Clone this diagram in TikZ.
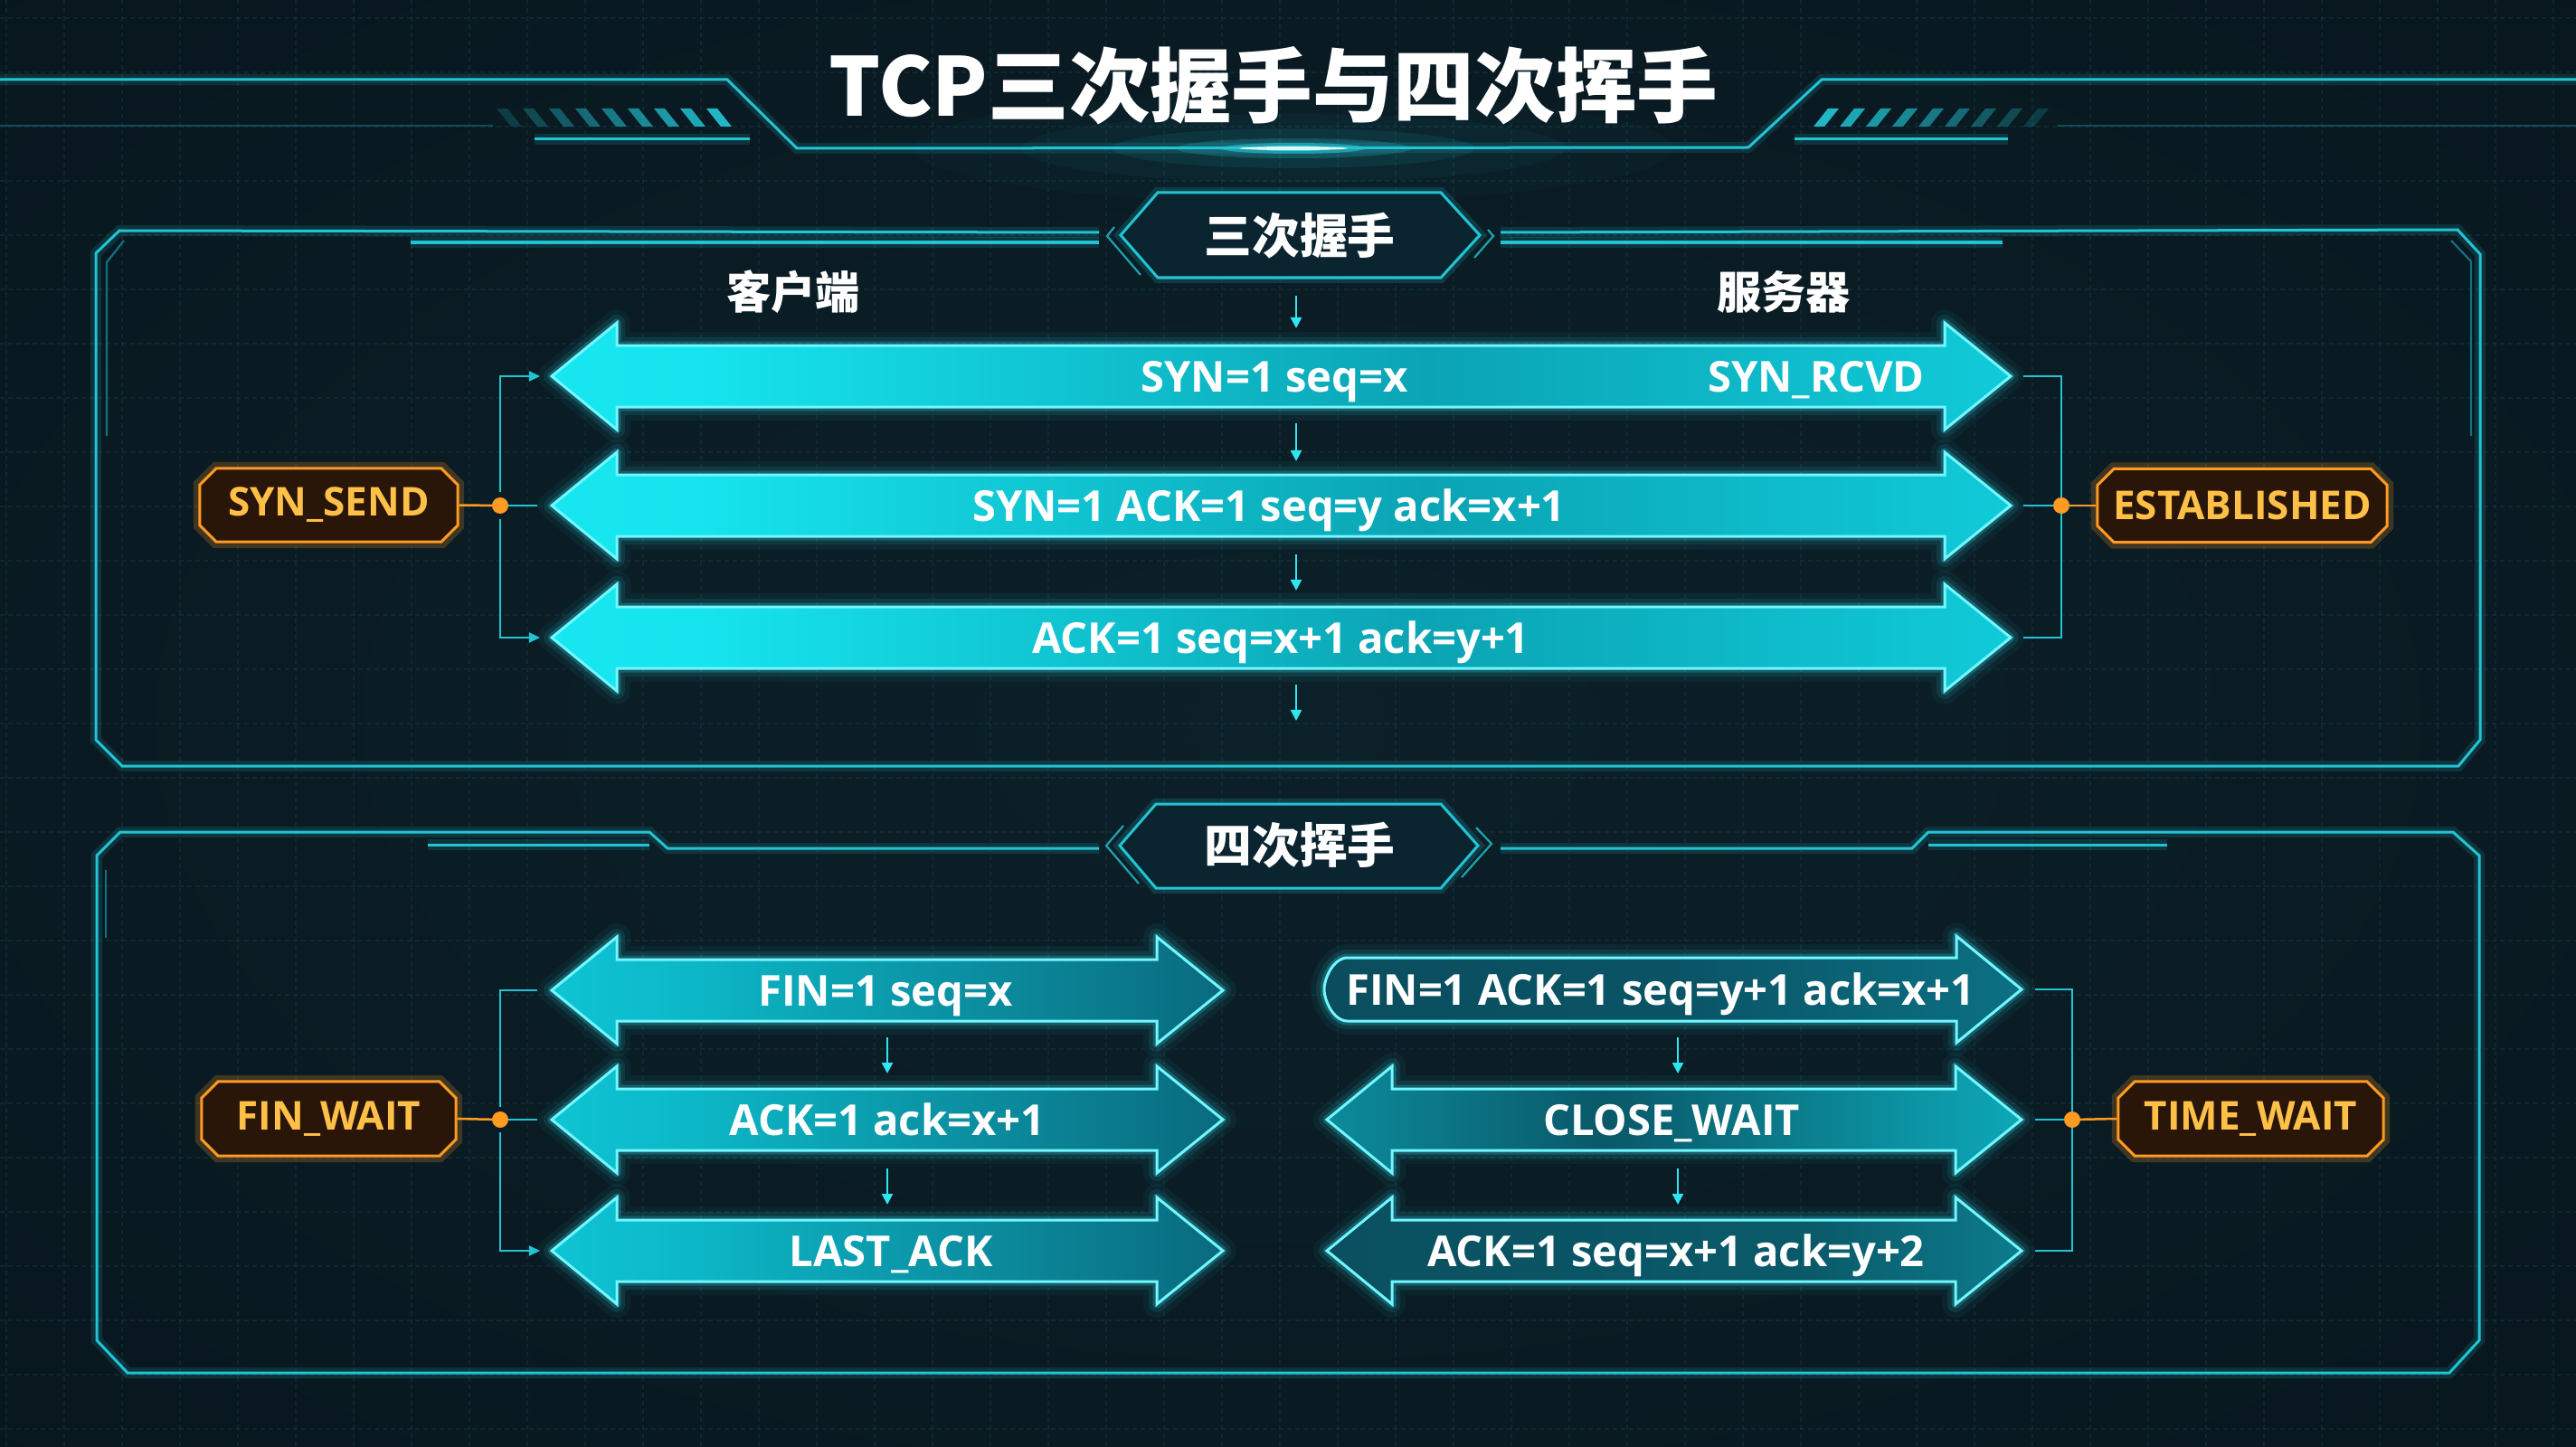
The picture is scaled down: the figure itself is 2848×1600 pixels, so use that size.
\documentclass[tikz,border=0pt]{standalone}
\usepackage{fontspec}
\usetikzlibrary{arrows.meta,shapes.misc,calc}
\newfontfamily\cjk{Noto Sans CJK SC}
\newfontfamily\osans{Open Sans}
\definecolor{bgin}{HTML}{0C2029}
\definecolor{bgmid}{HTML}{08161D}
\definecolor{bgout}{HTML}{03080C}
\definecolor{gridc}{HTML}{1A4250}
\definecolor{fr}{HTML}{22C4D4}
\definecolor{frd}{HTML}{127080}
\definecolor{edgec}{HTML}{72F6FF}
\definecolor{glowc}{HTML}{30E6F4}
\definecolor{dnc}{HTML}{2EE6F2}
\definecolor{org}{HTML}{FF9A22}
\definecolor{orgt}{HTML}{FFC048}
\definecolor{brownc}{HTML}{2A1609}
\definecolor{hexfill}{HTML}{0A2430}
\definecolor{cyA}{HTML}{1CF4FB}
\definecolor{cyA2}{HTML}{16E4EE}
\definecolor{cyB}{HTML}{0BA4B4}
\definecolor{cyC}{HTML}{12D4E2}
\definecolor{blA}{HTML}{15E2F0}
\definecolor{blB}{HTML}{0CB8C8}
\definecolor{blC}{HTML}{0A6A7E}
\definecolor{blD}{HTML}{0E94A6}
\definecolor{rA}{HTML}{0A4656}
\definecolor{rB}{HTML}{0A5466}
\definecolor{rC}{HTML}{0B7C8E}
\definecolor{rD}{HTML}{12C0D0}
\definecolor{sA}{HTML}{14DCEA}
\definecolor{sB}{HTML}{0C98A8}
\definecolor{sC}{HTML}{0A5868}
\definecolor{sD}{HTML}{0CA8B8}
\definecolor{sE}{HTML}{16E6F2}
\definecolor{tA}{HTML}{0C7888}
\definecolor{tB}{HTML}{0A4E5E}
\definecolor{tC}{HTML}{0A5A6A}
\definecolor{tD}{HTML}{10B4C4}
\pgfdeclareradialshading{bgshade}{\pgfpoint{0bp}{0bp}}{color(0bp)=(bgin); color(40bp)=(bgmid); color(72bp)=(bgout)}
\pgfdeclarehorizontalshading{shTop}{100bp}{color(0bp)=(cyA); color(30bp)=(cyA2); color(55bp)=(cyB); color(80bp)=(cyC); color(100bp)=(cyA)}
\pgfdeclarehorizontalshading{shBL}{100bp}{color(0bp)=(blA); color(35bp)=(blB); color(75bp)=(blC); color(100bp)=(blD)}
\pgfdeclarehorizontalshading{shR1}{100bp}{color(0bp)=(rA); color(50bp)=(rB); color(85bp)=(rC); color(100bp)=(rD)}
\pgfdeclarehorizontalshading{shR2}{100bp}{color(0bp)=(sA); color(20bp)=(sB); color(45bp)=(sC); color(75bp)=(sD); color(100bp)=(sE)}
\pgfdeclarehorizontalshading{shR3}{100bp}{color(0bp)=(tA); color(20bp)=(tB); color(60bp)=(tC); color(100bp)=(tD)}
\tikzset{
  gridline/.style={draw=gridc, line width=0.02cm, dash pattern=on 0.05cm off 0.04cm, opacity=0.35},
  frame/.style={draw=fr, line width=0.03cm, line join=miter, preaction={draw=fr, line width=0.12cm, opacity=0.15}},
  thinframe/.style={draw=frd, line width=0.022cm},
  hexlab/.style={fill=hexfill, draw=fr, line width=0.03cm, preaction={draw=fr, line width=0.12cm, opacity=0.18}},
  chev/.style={draw=fr, line width=0.022cm, opacity=0.8},
  atext/.style={font=\osans\bfseries\fontsize{13.4pt}{16pt}\selectfont, text=white, anchor=base, inner sep=0pt},
  cjklab/.style={font=\cjk\bfseries\fontsize{15pt}{18pt}\selectfont, text=white, inner sep=0pt},
  side/.style={font=\cjk\bfseries\fontsize{14pt}{17pt}\selectfont, text=white, inner sep=0pt},
  statebox/.style={chamfered rectangle, chamfered rectangle sep=0.09cm, draw=org, line width=0.03cm,
    fill=brownc, text=orgt, font=\osans\bfseries\fontsize{12.5pt}{15pt}\selectfont,
    minimum height=0.81cm, inner sep=0pt, preaction={draw=org, line width=0.14cm, opacity=0.22}},
  conn/.style={draw=fr, line width=0.022cm},
  connarrow/.style={conn, -{Triangle[length=0.12cm,width=0.11cm]}},
  orgline/.style={draw=org, line width=0.025cm},
  dn/.style={draw=dnc, line width=0.024cm, -{Triangle[length=0.12cm,width=0.12cm]}},
  dot/.style={fill=org},
}
\newcommand{\glowpath}[2]{%
  \draw[glowc, line width=0.30cm, opacity=0.05, line join=round] #2;
  \draw[glowc, line width=0.18cm, opacity=0.10, line join=round] #2;
  \draw[glowc, line width=0.09cm, opacity=0.22, line join=round] #2;
  \shade[shading=#1] #2;
  \draw[edgec, line width=0.03cm, line join=miter] #2;
}
\newcommand{\dblarrow}[4]{%
  \glowpath{#4}{({#1},{#3}) -- ({#1+72},{#3-59}) -- ({#1+72},{#3-34}) -- ({#2-73},{#3-34}) -- ({#2-73},{#3-59}) -- ({#2},{#3}) -- ({#2-73},{#3+59}) -- ({#2-73},{#3+34}) -- ({#1+72},{#3+34}) -- ({#1+72},{#3+59}) -- cycle}%
}
\begin{document}
\begin{tikzpicture}[x=0.01cm,y=-0.01cm]
\useasboundingbox (0,0) rectangle (2848,1600);
\shade[shading=bgshade] (0,0) rectangle (2848,1600);
% grid
\foreach \gx in {7,71,...,2848} \draw[gridline] (\gx,0) -- (\gx,1600);
\foreach \gy in {20,80,...,1600} \draw[gridline] (0,\gy) -- (2848,\gy);
% title glow
\foreach \rx/\ry/\op in {420/60/0.025, 300/38/0.04, 200/22/0.08, 130/11/0.18, 80/6/0.45, 45/3/0.85}
  \fill[glowc, opacity=\op] (1430,164) ellipse [x radius=\rx, y radius=\ry];
% header lines
\draw[frame] (0,88) -- (804,88) -- (881,164) -- (1933,163) -- (2014,88) -- (2848,88);
\fill[white, opacity=0.85] (1430,164) ellipse [x radius=60, y radius=2];
\draw[thinframe, opacity=0.6] (0,139) -- (545,139);
\draw[thinframe, opacity=0.6] (2275,139) -- (2848,139);
\draw[frame] (591,154) -- (829,154);
\draw[frame] (1984,154) -- (2220,154);
\foreach \i in {0,...,8} {
  \pgfmathsetmacro{\xa}{549+29*\i}
  \pgfmathsetmacro{\oa}{0.2+0.09*\i}
  \fill[fr, opacity=\oa] (\xa,120) -- ({\xa+12},120) -- ({\xa+28},140) -- ({\xa+16},140) -- cycle;
  \pgfmathsetmacro{\xb}{2005+29*\i}
  \pgfmathsetmacro{\ob}{0.92-0.09*\i}
  \fill[fr, opacity=\ob] ({\xb+16},120) -- ({\xb+28},120) -- ({\xb+12},140) -- (\xb,140) -- cycle;
}
\node[font=\cjk\bfseries\fontsize{25.5pt}{30pt}\selectfont, text=white, inner sep=0pt] (title) at (1408,95) {TCP三次握手与四次挥手};

% ===== top panel frame
\draw[frame] (1215,257) -- (132,255) -- (106,280) -- (106,818) -- (135,847) -- (2718,847) -- (2742,818) -- (2742,281) -- (2717,254) -- (1659,257);
\draw[frame] (454,268) -- (1215,268);
\draw[frame] (1659,268) -- (2214,268);
\draw[thinframe] (137,266) -- (118,290) -- (118,482);
\draw[thinframe] (2710,266) -- (2732,289) -- (2732,482);
\draw[hexlab] (1280,213) -- (1593,213) -- (1636,260) -- (1593,307) -- (1280,307) -- (1239,260) -- cycle;
\draw[chev] (1232,251) -- (1224,261) -- (1261,304);
\draw[chev] (1645,254) -- (1651,261) -- (1630,285);
\node[cjklab] (lab1) at (1437,261) {三次握手};

% ===== bottom panel frame
\draw[frame] (1215,938) -- (738,938) -- (718,920) -- (133,920) -- (107,946) -- (107,1482) -- (141,1518) -- (2708,1518) -- (2741,1482) -- (2741,946) -- (2712,920) -- (2132,920) -- (2114,938) -- (1659,938);
\draw[frame] (473,934) -- (718,934);
\draw[frame] (2132,934) -- (2396,934);
\draw[thinframe] (117,962) -- (117,1037);
\draw[hexlab] (1278,889) -- (1593,889) -- (1634,935) -- (1593,982) -- (1278,982) -- (1238,935) -- cycle;
\draw[chev] (1242,913) -- (1223,935) -- (1259,977);
\draw[chev] (1632,915) -- (1649,933) -- (1616,970);
\node[cjklab] (lab2) at (1437,935) {四次挥手};

% ===== top arrows
\node[side] (client) at (877,323) {客户端};
\node[side] (server) at (1972,323) {服务器};
\dblarrow{610}{2223}{416}{shTop}
\dblarrow{610}{2223}{559}{shTop}
\dblarrow{610}{2223}{705}{shTop}
\coordinate (a1L) at (610,416); \coordinate (a2L) at (610,559); \coordinate (a3L) at (610,705);
\coordinate (a1R) at (2223,416); \coordinate (a2R) at (2223,559); \coordinate (a3R) at (2223,705);
\node[atext] (m1) at (1409,433) {SYN=1 seq=x};
\node[atext] (m1r) at (2008,433) {SYN\_RCVD};
\node[atext] (m2) at (1403,576) {SYN=1 ACK=1 seq=y ack=x+1};
\node[atext] (m3) at (1416,722) {ACK=1 seq=x+1 ack=y+1};
\coordinate (d0a) at (1433,327); \coordinate (d0b) at (1433,363);
\coordinate (d1a) at (1433,468); \coordinate (d1b) at (1433,510);
\coordinate (d2a) at (1433,613); \coordinate (d2b) at (1433,653);
\coordinate (d3a) at (1433,757); \coordinate (d3b) at (1433,797);
\draw[dn] (d0a) -- (d0b);
\draw[dn] (d1a) -- (d1b);
\draw[dn] (d2a) -- (d2b);
\draw[dn] (d3a) -- (d3b);

% top connectors
\node[statebox, minimum width=2.85cm] (syns) at (363.5,558.5) {SYN\_SEND};
\node[statebox, minimum width=3.2cm] (est) at (2479,559) {ESTABLISHED};
\coordinate (jL1) at (553,559);
\coordinate (jR1) at (2279,559);
\draw[orgline] (syns.east) -- (jL1);
\draw[conn, shorten >=0.16cm] (jL1) -- (a2L);
\draw[connarrow, shorten >=0.13cm] ($(jL1)+(0,-15)$) |- (a1L);
\draw[connarrow, shorten >=0.13cm] ($(jL1)+(0,15)$) |- (a3L);
\fill[dot] (jL1) circle [radius=9];
\draw[conn, shorten <=0.14cm, shorten >=0.14cm] (a1R) -| (jR1) |- (a3R);
\draw[conn, shorten <=0.14cm] (a2R) -- (jR1);
\draw[orgline] (jR1) -- (est.west);
\fill[dot] (jR1) circle [radius=9];

% ===== bottom arrows
\dblarrow{610}{1352}{1095}{shBL}
\dblarrow{610}{1352}{1238}{shBL}
\dblarrow{610}{1352}{1383}{shBL}
\glowpath{shR1}{(1490,1059) -- (2163,1059) -- (2163,1035) -- (2235,1094) -- (2163,1153) -- (2163,1129) -- (1490,1129) .. controls (1474,1129) and (1464,1106) .. (1464,1094) .. controls (1464,1082) and (1474,1059) .. (1490,1059) -- cycle}
\dblarrow{1467}{2235}{1238}{shR2}
\dblarrow{1467}{2235}{1383}{shR3}
\coordinate (b1L) at (610,1095); \coordinate (b2L) at (610,1238); \coordinate (b3L) at (610,1383);
\coordinate (c1R) at (2235,1094); \coordinate (c2R) at (2235,1238); \coordinate (c3R) at (2235,1383);
\node[atext] (f1) at (979,1112) {FIN=1 seq=x};
\node[atext] (f2) at (981,1255) {ACK=1 ack=x+1};
\node[atext] (f3) at (985,1400) {LAST\_ACK};
\node[atext] (g1) at (1836,1111) {FIN=1 ACK=1 seq=y+1 ack=x+1};
\node[atext] (g2) at (1848,1255) {CLOSE\_WAIT};
\node[atext] (g3) at (1853,1400) {ACK=1 seq=x+1 ack=y+2};
\coordinate (e1a) at (981,1147); \coordinate (e1b) at (981,1187);
\coordinate (e2a) at (981,1292); \coordinate (e2b) at (981,1332);
\coordinate (h1a) at (1855,1147); \coordinate (h1b) at (1855,1187);
\coordinate (h2a) at (1855,1292); \coordinate (h2b) at (1855,1332);
\draw[dn] (e1a) -- (e1b);
\draw[dn] (e2a) -- (e2b);
\draw[dn] (h1a) -- (h1b);
\draw[dn] (h2a) -- (h2b);

% bottom connectors
\node[statebox, minimum width=2.81cm, minimum height=0.82cm] (finw) at (363.5,1237) {FIN\_WAIT};
\node[statebox, minimum width=2.93cm, minimum height=0.82cm] (timew) at (2488.5,1237) {TIME\_WAIT};
\coordinate (jL2) at (553,1238);
\coordinate (jR2) at (2291,1238);
\draw[orgline] (finw.east) -- (jL2);
\draw[conn, shorten >=0.16cm] (jL2) -- (b2L);
\draw[conn, shorten >=0.16cm] ($(jL2)+(0,-14)$) |- (b1L);
\draw[connarrow, shorten >=0.13cm] ($(jL2)+(0,14)$) |- (b3L);
\fill[dot] (jL2) circle [radius=9];
\draw[conn, shorten <=0.15cm, shorten >=0.15cm] (c1R) -| (jR2) |- (c3R);
\draw[conn, shorten <=0.15cm] (c2R) -- (jR2);
\draw[orgline] (jR2) -- (timew.west);
\fill[dot] (jR2) circle [radius=9];
\end{tikzpicture}
\end{document}
